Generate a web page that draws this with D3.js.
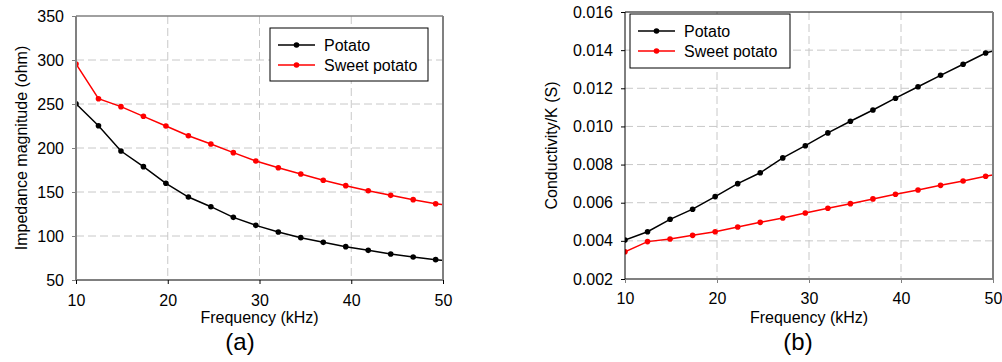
<!DOCTYPE html>
<html><head><meta charset="utf-8">
<script src="https://cdn.jsdelivr.net/npm/d3@7"></script>
<style>
body{margin:0;background:#fff;}
text{font-family:"Liberation Sans",Arial,sans-serif;fill:#000;}
</style></head>
<body>
<svg id="c" width="1002" height="362"></svg>
<script>
// Frequencies (kHz); last point lies just beyond the axis and is clipped
const freq = [10,12.45,14.9,17.35,19.8,22.25,24.7,27.15,29.6,32.05,34.5,36.95,39.4,41.85,44.3,46.75,49.2,51.65];
const impPotato = [250.3,225.3,196.6,178.8,159.9,144.3,133.3,121.2,112.1,104.5,98.1,92.8,87.9,83.7,79.5,76.1,73.1,70.2];
const impSweet  = [295.5,256,247,236,225,214,204.5,194.7,185.2,177.6,170.4,163.3,157.2,151.5,146.2,141.3,136.7,133.2];
const condPotato = [0.00404,0.00448,0.00513,0.00566,0.00632,0.00700,0.00757,0.00835,0.00899,0.00966,0.01027,0.01086,0.01148,0.01208,0.01268,0.01326,0.01385,0.01416];
const condSweet  = [0.00343,0.00396,0.00410,0.00429,0.00448,0.00473,0.00497,0.00520,0.00546,0.00571,0.00595,0.00620,0.00644,0.00667,0.00691,0.00714,0.00739,0.00760];
const xTicks = [10,20,30,40,50];
const impTicks = [50,100,150,200,250,300,350];
const condTicks = [0.002,0.004,0.006,0.008,0.010,0.012,0.014,0.016];
const seriesNames = ["Potato","Sweet potato"];
const seriesColors = ["#000000","#ff0000"];

const svg = d3.select("#c");
const FS = 16;

function panel(o){
  const x = d3.scaleLinear().domain([10,50]).range([o.x0,o.x1]);
  const y = d3.scaleLinear().domain([o.yTicks[0],o.yTicks[o.yTicks.length-1]]).range([o.y1,o.y0]);
  const g = svg.append("g");
  // grid
  g.selectAll(".gx").data(xTicks.slice(1,-1)).join("line")
    .attr("x1",d=>x(d)).attr("x2",d=>x(d)).attr("y1",o.y0).attr("y2",o.y1)
    .attr("stroke","#c8c8c8").attr("stroke-width",1).attr("stroke-dasharray","8,4");
  g.selectAll(".gy").data(o.yTicks.slice(1,-1)).join("line")
    .attr("x1",o.x0).attr("x2",o.x1).attr("y1",d=>y(d)).attr("y2",d=>y(d))
    .attr("stroke","#c8c8c8").attr("stroke-width",1).attr("stroke-dasharray","8,4");
  // clip
  const cid = "clip"+o.id;
  svg.append("clipPath").attr("id",cid).append("rect")
    .attr("x",o.x0).attr("y",o.y0-4).attr("width",o.x1-o.x0+0.5).attr("height",o.y1-o.y0+8);
  const line = d3.line().x((d,i)=>x(freq[i])).y(d=>y(d));
  const lg = g.append("g").attr("clip-path",`url(#${cid})`);
  o.series.forEach((s,k)=>{
    lg.append("path").datum(s).attr("d",line).attr("fill","none")
      .attr("stroke",seriesColors[k]).attr("stroke-width",1.5);
    lg.selectAll(null).data(s.filter((d,i)=>freq[i]<=50)).join("circle")
      .attr("cx",(d,i)=>x(freq[i])).attr("cy",d=>y(d)).attr("r",2.8).attr("fill",seriesColors[k]);
  });
  // axes with d3 axis generators
  const ax = g.append("g").attr("transform",`translate(0,${o.y1})`)
    .call(d3.axisBottom(x).tickValues(xTicks).tickSize(4).tickSizeOuter(0).tickPadding(o.xPad).tickFormat(d3.format("d")));
  ax.select(".domain").remove();
  ax.selectAll("line").attr("stroke",o.bottomColor);
  ax.selectAll("text").attr("font-size",FS).attr("font-family","Liberation Sans, Arial, sans-serif").attr("fill","#000");
  const ay = g.append("g").attr("transform",`translate(${o.x0},0)`)
    .call(d3.axisLeft(y).tickValues(o.yTicks).tickSize(4).tickSizeOuter(0).tickPadding(8).tickFormat(o.fmt));
  ay.select(".domain").remove();
  ay.selectAll("line").attr("stroke",o.leftColor);
  ay.selectAll("text").attr("font-size",FS).attr("font-family","Liberation Sans, Arial, sans-serif").attr("fill","#000");
  // frame
  g.append("line").attr("x1",o.x0).attr("x2",o.x1).attr("y1",o.y0).attr("y2",o.y0).attr("stroke",o.topColor).attr("stroke-width",o.topW);
  g.append("line").attr("x1",o.x0).attr("x2",o.x1).attr("y1",o.y1).attr("y2",o.y1).attr("stroke",o.bottomColor).attr("stroke-width",o.bottomW);
  g.append("line").attr("x1",o.x0).attr("x2",o.x0).attr("y1",o.y0).attr("y2",o.y1).attr("stroke",o.leftColor).attr("stroke-width",o.leftW);
  g.append("line").attr("x1",o.x1).attr("x2",o.x1).attr("y1",o.y0).attr("y2",o.y1).attr("stroke",o.rightColor).attr("stroke-width",o.rightW);
  // titles
  g.append("text").attr("x",(o.x0+o.x1)/2).attr("y",o.xtY).attr("text-anchor","middle").attr("font-size",FS).text("Frequency (kHz)");
  g.append("text").attr("transform",`translate(${o.ytX},${(o.y0+o.y1)/2}) rotate(-90)`).attr("text-anchor","middle").attr("font-size",FS).text(o.yTitle);
  g.append("text").attr("x",o.labX).attr("y",350).attr("text-anchor","middle").attr("font-size",24).text(o.label);
  // legend
  const L = o.leg;
  g.append("rect").attr("x",L.x).attr("y",L.y).attr("width",L.w).attr("height",L.h)
    .attr("fill","#fff").attr("stroke","#000").attr("stroke-width",1);
  seriesNames.forEach((n,k)=>{
    const yy = L.y + 17 + k*20;
    g.append("line").attr("x1",L.x+8).attr("x2",L.x+45).attr("y1",yy).attr("y2",yy).attr("stroke",seriesColors[k]).attr("stroke-width",1.5);
    g.append("circle").attr("cx",L.x+26.5).attr("cy",yy).attr("r",2.8).attr("fill",seriesColors[k]);
    g.append("text").attr("x",L.x+54).attr("y",yy+6).attr("font-size",FS).text(n);
  });
}

panel({id:"a",x0:76,x1:443,y0:16,y1:280,yTicks:impTicks,fmt:d3.format("d"),
  series:[impPotato,impSweet],
  topColor:"#808080",topW:1.5,leftColor:"#808080",leftW:2,rightColor:"#808080",rightW:2,bottomColor:"#000",bottomW:1,
  xPad:11,xtY:323,ytX:27,yTitle:"Impedance magnitude (ohm)",labX:240,label:"(a)",
  leg:{x:270,y:28,w:158,h:53}});

panel({id:"b",x0:625,x1:993,y0:12,y1:279,yTicks:condTicks,fmt:d3.format(".3f"),
  series:[condPotato,condSweet],
  topColor:"#000",topW:1,leftColor:"#000",leftW:1,rightColor:"#808080",rightW:2,bottomColor:"#808080",bottomW:2,
  xPad:10,xtY:323,ytX:557,yTitle:"Conductivity/K (S)",labX:798,label:"(b)",
  leg:{x:630,y:14,w:160,h:54}});
</script>
</body></html>
